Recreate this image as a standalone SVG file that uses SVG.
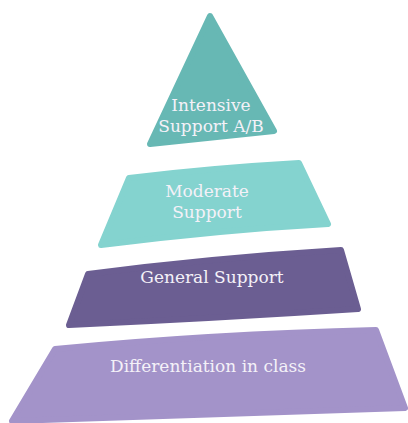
<svg xmlns="http://www.w3.org/2000/svg" width="408" height="423" viewBox="0 0 408 423">
<style>
.lbl{font-family:"DejaVu Serif","Liberation Serif",serif;font-size:17px;fill:#f4f1f8;text-anchor:middle}
.tier{stroke-linejoin:round;stroke-width:6}
</style>
<rect width="408" height="423" fill="#ffffff"/>
<g id="intensive">
<path class="tier" d="M210,16 L274,131 L150,144 Z" fill="#67b8b4" stroke="#67b8b4"/>
<text class="lbl" x="211" y="111">Intensive</text>
<text class="lbl" x="211" y="132">Support A/B</text>
</g>
<g id="moderate">
<path class="tier" d="M129,178 Q210,168 299,163 L328,224 Q220,230 101,245 Z" fill="#84d3cf" stroke="#84d3cf"/>
<text class="lbl" x="207" y="197">Moderate</text>
<text class="lbl" x="207" y="218">Support</text>
</g>
<g id="general">
<path class="tier" d="M88,274 Q210,258 341,250 L358,309 Q220,318 69,325 Z" fill="#6b5e92" stroke="#6b5e92"/>
<text class="lbl" x="212" y="283">General Support</text>
</g>
<g id="differentiation">
<path class="tier" d="M55,349 Q210,334 376,330 L405,408 Q220,414 12,421 Z" fill="#a393c9" stroke="#a393c9"/>
<text class="lbl" x="208" y="372">Differentiation in class</text>
</g>
<g id="connectors"/>
</svg>
